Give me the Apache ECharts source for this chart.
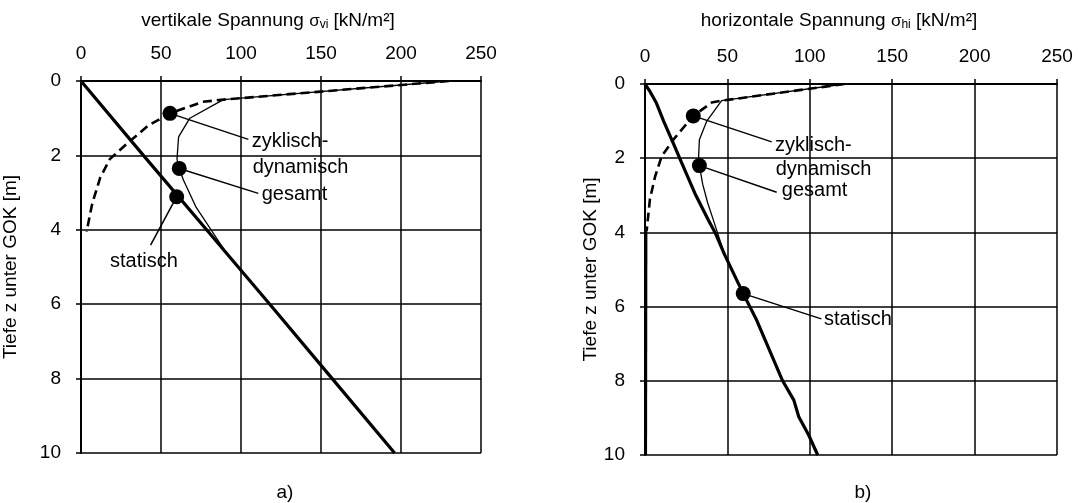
<!DOCTYPE html>
<html>
<head>
<meta charset="utf-8">
<script src="https://cdn.jsdelivr.net/npm/echarts@6/dist/echarts.min.js"></script>
<style>html,body{margin:0;padding:0;background:#fff}#c{width:1078px;height:503px}</style>
</head>
<body>
<div id="c"></div>
<script>
// ---- data (stress value, depth) ----
const xTickValues = [0, 50, 100, 150, 200, 250];
const yTickValues = [0, 2, 4, 6, 8, 10];

// panel a) vertical stress
const aStatisch = [[0,0],[39,2],[78.5,4],[118,6],[157,8],[196,10]];
const aGesamt = [[230,0],[89,0.5],[68,1.0],[61,1.5],[60,2.1],[61.4,2.35],[64,2.66],[72,3.4],[91,4.63],[118,6],[157,8],[196,10]];
const aZyklisch = [[230,0],[89,0.5],[76,0.56],[55.6,0.87],[42,1.2],[31,1.6],[18,2.1],[12,2.6],[7,3.3],[3.5,4.05]];
const aMarkers = [[55.6,0.87],[61.4,2.35],[59.8,3.11]];
const aLeaderEnds = [[104.6,1.57],[110.8,3.02],[43.5,4.41]];
const aLabelText = ['zyklisch-','dynamisch','gesamt','statisch'];
const aLabelPos = [[106.7,1.63],[107.3,2.32],[112.9,3.06],[39.3,4.86]];

// panel b) horizontal stress
const bStatisch = [[0,0],[3,0.2],[7,0.52],[11.3,1.0],[17.2,1.6],[22,2.1],[30.3,2.95],[38.5,3.67],[42.5,4.0],[48.3,4.6],[59.6,5.65],[67.8,6.37],[83.5,8.0],[90.3,8.52],[93.3,8.97],[99.3,9.46],[104.8,10]];
const bGesamt = [[121,0],[46.5,0.45],[37.5,1.0],[33,1.5],[32.5,2.0],[33,2.2],[35,2.7],[38,3.2],[41.5,3.67],[48.3,4.6]];
const bZyklisch = [[121,0],[46.5,0.45],[40.5,0.5],[29.3,0.86],[17.2,1.5],[10.1,1.95],[6.1,2.5],[3,3.1],[1,3.96]];
const bZyklischTail = [[1,3.96],[0.8,10]];
const bMarkers = [[29.3,0.86],[33,2.2],[59.6,5.65]];
const bLeaderEnds = [[76.9,1.56],[79.9,2.92],[107,6.33]];
const bLabelText = ['zyklisch-','dynamisch','gesamt','statisch'];
const bLabelPos = [[78.9,1.67],[79.3,2.3],[83,2.88],[108.6,6.36]];

const FONT = "'Liberation Sans', Arial, sans-serif";

function xAxisDef(gi){
  return {
    gridIndex: gi, type: 'value', position: 'top', min: 0, max: 250, interval: 50,
    axisLine: {show: true, lineStyle: {color: '#000', width: 2}},
    axisTick: {show: true, length: 5, lineStyle: {color: '#000', width: 1.5}},
    axisLabel: {color: '#000', fontSize: 19, fontFamily: FONT, margin: 18},
    splitLine: {show: true, lineStyle: {color: '#000', width: 1.5}}
  };
}
function yAxisDef(gi, nameGap){
  return {
    gridIndex: gi, type: 'value', inverse: true, min: 0, max: 10, interval: 2,
    name: 'Tiefe z unter GOK [m]', nameLocation: 'middle', nameGap: nameGap,
    nameTextStyle: {color: '#000', fontSize: 19, fontFamily: FONT},
    axisLine: {show: true, lineStyle: {color: '#000', width: 2}},
    axisTick: {show: true, length: 5, lineStyle: {color: '#000', width: 1.5}},
    axisLabel: {color: '#000', fontSize: 19, fontFamily: FONT, margin: 20},
    splitLine: {show: true, lineStyle: {color: '#000', width: 1.5}}
  };
}

function panelSeries(gi, statisch, gesamt, zyk, tail, markers, ends, texts, pos){
  const s = [];
  s.push({type:'line', xAxisIndex: gi, yAxisIndex: gi, data: statisch, symbol:'none', silent:true,
    lineStyle:{color:'#000', width:3.2}, z:5});
  s.push({type:'line', xAxisIndex: gi, yAxisIndex: gi, data: gesamt, symbol:'none', silent:true,
    lineStyle:{color:'#000', width:1.3}, z:4});
  s.push({type:'line', xAxisIndex: gi, yAxisIndex: gi, data: zyk, symbol:'none', silent:true,
    lineStyle:{color:'#000', width:2.6, type:[9,5]}, z:4});
  if (tail) s.push({type:'line', xAxisIndex: gi, yAxisIndex: gi, data: tail, symbol:'none', silent:true,
    lineStyle:{color:'#000', width:1.5}, z:4});
  s.push({type:'lines', coordinateSystem:'cartesian2d', xAxisIndex: gi, yAxisIndex: gi, silent:true,
    lineStyle:{color:'#000', width:1.5, opacity:1},
    data: markers.map((m,i)=>({coords:[m, ends[i]]})), z:6});
  s.push({type:'scatter', xAxisIndex: gi, yAxisIndex: gi, data: markers, symbol:'circle', symbolSize:15,
    itemStyle:{color:'#000', opacity:1}, silent:true, z:7});
  s.push({type:'scatter', xAxisIndex: gi, yAxisIndex: gi, symbolSize: 0, silent:true, z:8,
    itemStyle:{opacity:1},
    data: pos.map((p,i)=>({value:p, name:texts[i],
      label:{show:true, position: i===3 && gi===0 ? 'inside' : 'right', distance:0,
        formatter:'{b}', color:'#000', opacity:1, fontSize:20, fontFamily:FONT}}))});
  return s;
}

const richTitle = {
  t:{fontSize:19, fontFamily:FONT, fill:'#000'},
  s:{fontSize:17, fontFamily:FONT, fill:'#000'},
  sub:{fontSize:12, fontFamily:FONT, fill:'#000', padding:[7,0,0,0]}
};

const chart = echarts.init(document.getElementById('c'), null, {renderer:'canvas'});
chart.setOption({
  backgroundColor: '#fff',
  animation: false,
  grid: [
    {left: 81, right: 597, top: 81, bottom: 50},
    {left: 645, right: 21, top: 84, bottom: 48}
  ],
  xAxis: [xAxisDef(0), xAxisDef(1)],
  yAxis: [yAxisDef(0, 61), yAxisDef(1, 45)],
  graphic: [
    {type:'text', x: 268, y: 21, style:{text:'{t|vertikale Spannung }{s|σ}{sub|vi}{t| [kN/m²]}',
      align:'center', verticalAlign:'middle', fill:'#000', rich: richTitle}},
    {type:'text', x: 839, y: 21, style:{text:'{t|horizontale Spannung }{s|σ}{sub|hi}{t| [kN/m²]}',
      align:'center', verticalAlign:'middle', fill:'#000', rich: richTitle}},
    {type:'text', x: 285, y: 493, style:{text:'a)', align:'center', verticalAlign:'middle', fill:'#000', fontSize:19, fontFamily:FONT}},
    {type:'text', x: 863, y: 493, style:{text:'b)', align:'center', verticalAlign:'middle', fill:'#000', fontSize:19, fontFamily:FONT}}
  ],
  series: [].concat(
    panelSeries(0, aStatisch, aGesamt, aZyklisch, null, aMarkers, aLeaderEnds, aLabelText, aLabelPos),
    panelSeries(1, bStatisch, bGesamt, bZyklisch, bZyklischTail, bMarkers, bLeaderEnds, bLabelText, bLabelPos)
  )
});
</script>
</body>
</html>
